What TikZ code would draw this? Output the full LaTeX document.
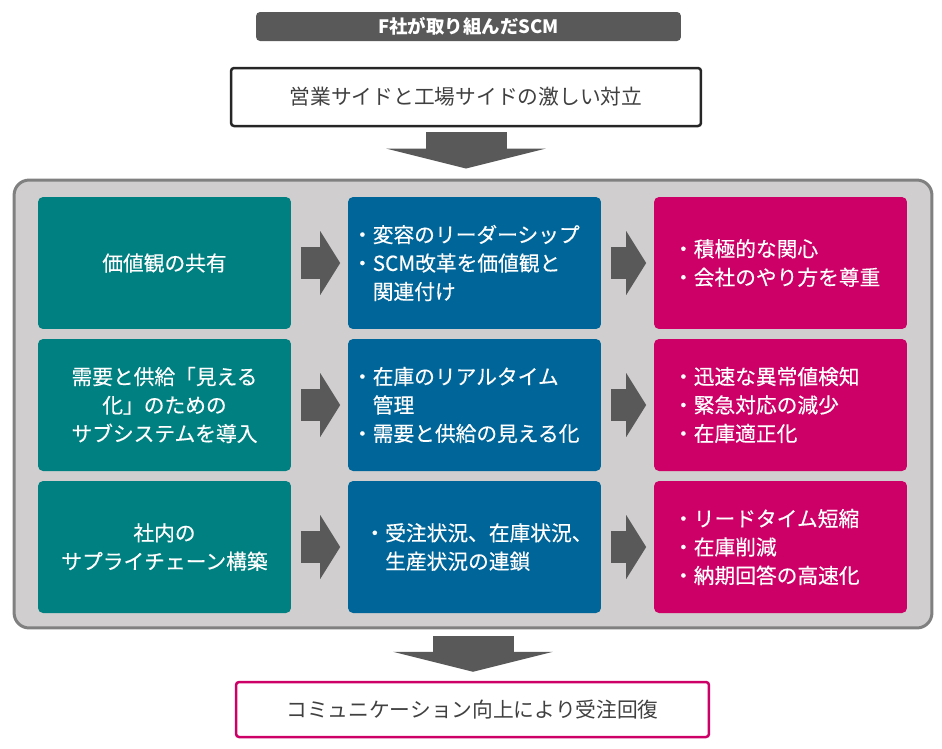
\documentclass[tikz,border=0pt]{standalone}
\usepackage{fontspec}
\setmainfont{Noto Sans CJK JP}
\newfontfamily\heavyfont[FakeBold=0.3]{Noto Sans CJK JP}
\usepackage{xcolor}
\usepackage{tikz}
\usetikzlibrary{positioning,arrows.meta}

\definecolor{barGray}{HTML}{595959}
\definecolor{panelGray}{HTML}{D0CECE}
\definecolor{panelEdge}{HTML}{808080}
\definecolor{tealBox}{HTML}{008080}
\definecolor{blueBox}{HTML}{006699}
\definecolor{pinkBox}{HTML}{CC0066}
\definecolor{textGray}{HTML}{404040}

\newcommand{\indentline}{\hspace*{1em}}

\begin{document}
\begin{tikzpicture}[
    x=0.02cm, y=-0.02cm,
    title/.style={rectangle, fill=barGray, rounded corners=0.08cm, minimum width=8.5cm, minimum height=0.58cm, inner sep=0pt, text=white, font=\fontsize{10.5}{12}\selectfont\bfseries},
    issue/.style={rectangle, draw=black!85, line width=0.05cm, rounded corners=0.06cm, minimum width=9.4cm, minimum height=1.16cm, inner sep=0pt, text=textGray, font=\fontsize{11.8}{16}\selectfont},
    result/.style={issue, draw=pinkBox, minimum width=9.46cm, minimum height=1.1cm},
    panel/.style={rectangle, draw=panelEdge, fill=panelGray, line width=0.06cm, rounded corners=0.3cm, minimum width=18.36cm, minimum height=8.96cm},
    box/.style={rectangle, rounded corners=0.1cm, minimum width=5.06cm, minimum height=2.64cm, inner sep=0pt, text=white, font=\heavyfont\fontsize{11.8}{16.2}\selectfont},
    value/.style={box, fill=tealBox, align=center},
    measure/.style={box, fill=blueBox, text width=4.9cm, align=left},
    effect/.style={box, fill=pinkBox, text width=4.3cm, align=left},
    fat/.style={draw=barGray, line width=0.64cm, -{Triangle[length=0.4cm, width=1.28cm, line width=0pt]}, shorten <=0.19cm, shorten >=0.15cm},
    down/.style={draw=barGray, line width=1.62cm, -{Triangle[length=0.4cm, width=3.2cm, line width=0pt]}}
]
    \useasboundingbox (0,0) rectangle (942,748);

    \node[title] (head) at (468.5,26.5) {F社が取り組んだSCM};
    \node[issue] (issue) at (466,97) {営業サイドと工場サイドの激しい対立};

    \node[panel] (panel) at (473,404) {};

    % row 1
    \node[value] (share) at (164.5,263) {価値観の共有};
    \node[measure] (lead) at (474.5,263) {・変容のリーダーシップ\\・SCM改革を価値観と\\\indentline 関連付け};
    \node[effect] (care) at (780.5,263) {・積極的な関心\\・会社のやり方を尊重};

    % row 2
    \node[value] (visible) at (164.5,405) {需要と供給「見える\\化」のための\\サブシステムを導入};
    \node[measure] (stock) at (474.5,405) {・在庫のリアルタイム\\\indentline 管理\\・需要と供給の見える化};
    \node[effect] (alert) at (780.5,405) {・迅速な異常値検知\\・緊急対応の減少\\・在庫適正化};

    % row 3
    \node[value] (chain) at (164.5,547) {社内の\\サプライチェーン構築};
    \node[measure] (link) at (474.5,547) {\hspace*{0.6em}・受注状況、在庫状況、\\\hspace*{1.6em}生産状況の連鎖};
    \node[effect] (speed) at (780.5,547) {・リードタイム短縮\\・在庫削減\\・納期回答の高速化};

    \node[result] (result) at (472.5,709.5) {コミュニケーション向上により受注回復};

    \draw[fat] (share) -- (lead);
    \draw[fat] (lead) -- (care);
    \draw[fat] (visible) -- (stock);
    \draw[fat] (stock) -- (alert);
    \draw[fat] (chain) -- (link);
    \draw[fat] (link) -- (speed);

    \draw[down, shorten <=0.1cm, shorten >=0.2cm] (issue.south) -- (issue.south |- panel.north);
    \draw[down, shorten <=0.14cm, shorten >=0.18cm] (panel.south) -- (panel.south |- result.north);
\end{tikzpicture}
\end{document}
